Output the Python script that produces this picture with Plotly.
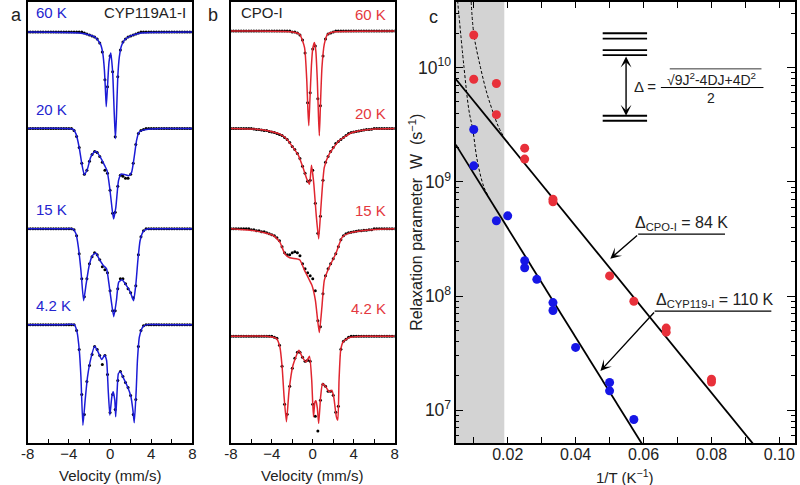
import math
import plotly.graph_objects as go

W, H = 800, 485
def px(x): return x / W
def py(y): return 1 - y / H

FONT = "Liberation Sans, Arial, Helvetica, sans-serif"
BLUE = "#1b1bd6"
RED = "#e0252f"
BLUE_TXT = "#2424cf"
RED_TXT = "#e43840"

# ---------------- Mossbauer spectra (absorption depth, arbitrary units) ----------------
VEL = [-8.0, -7.75, -7.5, -7.25, -7.0, -6.75, -6.5, -6.25, -6.0, -5.75, -5.5, -5.25, -5.0,
       -4.75, -4.5, -4.25, -4.0, -3.75, -3.5, -3.25, -3.0, -2.75, -2.5, -2.25, -2.0, -1.75,
       -1.5, -1.25, -1.0, -0.75, -0.5, -0.25, 0.0, 0.25, 0.5, 0.75, 1.0, 1.25, 1.5, 1.75,
       2.0, 2.25, 2.5, 2.75, 3.0, 3.25, 3.5, 3.75, 4.0, 4.25, 4.5, 4.75, 5.0, 5.25, 5.5,
       5.75, 6.0, 6.25, 6.5, 6.75, 7.0, 7.25, 7.5, 7.75, 8.0]

# CYP119A1-I fits
A60_V = [-8, -3, -2, -1.5, -1.2, -0.9, -0.7, -0.55, -0.45, -0.37, -0.25, -0.1, 0.07, 0.25, 0.4,
         0.52, 0.62, 0.75, 0.9, 1.1, 1.4, 2, 3, 8]
A60_D = [0, 1, 3, 5, 8, 13, 22, 38, 58, 75, 55, 30, 21, 40, 80, 107, 85, 45, 25, 14, 8, 4, 1, 0]
A20_V = [-8, -4.5, -3.6, -3.3, -3.0, -2.74, -2.5, -2.2, -1.89, -1.57, -1.35, -0.93, -0.52, -0.29,
         -0.04, 0.18, 0.34, 0.56, 0.82, 1.07, 1.45, 1.83, 2.09, 2.34, 2.57, 2.79, 3.2, 3.7, 5, 8]
A20_D = [0, 0, 0.7, 5.7, 19, 35.7, 46.3, 40.7, 29, 24, 23, 29, 37.3, 42.3, 59, 79, 90.7, 79, 52.3,
         45.7, 46.3, 47.3, 44, 29, 12.3, 4, 1.7, 0.7, 0, 0]
A15_V = [-8, -4.5, -3.62, -3.31, -3.08, -2.83, -2.57, -2.32, -2.03, -1.71, -1.39, -1.07, -0.65,
         -0.34, -0.11, 0.11, 0.36, 0.62, 0.84, 1.17, 1.58, 1.96, 2.28, 2.51, 2.70, 2.92, 3.24,
         3.7, 5, 8]
A15_D = [0, 0, 0, 5, 18.3, 41.7, 72, 55, 36.7, 26.7, 24.3, 30, 36.7, 40, 55, 71.7, 88, 71.7,
         53.3, 51, 56.7, 63.3, 72, 55, 31.7, 11.7, 2.3, 0, 0, 0]
A4_V = [-8, -4.5, -3.47, -3.21, -2.99, -2.83, -2.64, -2.42, -2.19, -1.87, -1.49, -1.17, -0.82,
        -0.53, -0.34, -0.18, -0.02, 0.17, 0.30, 0.46, 0.55, 0.69, 0.81, 1.0, 1.32, 1.70, 2.03,
        2.22, 2.35, 2.54, 2.66, 2.85, 3.18, 3.6, 5, 8]
A4_D = [0, 0, 0, 7.3, 25.7, 52.3, 100.7, 75.7, 52.3, 34, 21.7, 27.3, 35, 30.7, 35.7, 65.7, 90.7,
        72.3, 67.3, 75.7, 92.3, 65.7, 49, 47.3, 54, 62.3, 72.3, 85.7, 98.3, 65.7, 35.7, 12.3,
        2.3, 0, 0, 0]

# CPO-I fits
B60_V = [-8, -2, -1.28, -0.8, -0.58, -0.47, -0.386, -0.28, -0.13, 0.0, 0.16, 0.3, 0.45, 0.56,
         0.645, 0.75, 0.9, 1.13, 1.45, 2, 8]
B60_D = [0, 1, 3.3, 16.7, 50, 80, 95, 70, 35, 18, 11.7, 20, 50, 85, 105, 75, 36.7, 13.3, 3.3, 1, 0]
B20_V = [-8, -5.5, -4.5, -3.2, -2.5, -1.93, -1.4, -0.96, -0.58, -0.32, -0.12, 0.1, 0.35, 0.58,
         0.8, 1.13, 1.61, 2.57, 3.86, 5.78, 8]
B20_D = [0, 0.7, 2, 5.7, 11, 19, 27, 39, 50.7, 56, 37, 55, 88, 110.7, 79, 39, 25.7, 12.3, 4, 0.7, 0]
B15_V = [-8, -5.46, -3.86, -3.21, -2.73, -2.25, -1.28, -0.80, -0.39, -0.07, 0.26, 0.48, 0.645,
         0.90, 1.13, 1.61, 2.25, 2.89, 3.54, 5.78, 8]
B15_D = [0, 2.3, 6.7, 13.3, 25, 29, 31, 41.7, 50, 56.7, 71.7, 91.7, 104, 78, 51.7, 38.3, 25, 8.3,
         4.3, 1, 0]
B4_V = [-8, -4.5, -3.54, -3.21, -2.99, -2.80, -2.57, -2.31, -1.93, -1.35, -1.03, -0.65, -0.32,
        -0.10, 0.07, 0.22, 0.32, 0.45, 0.58, 0.77, 0.96, 1.28, 1.61, 1.86, 2.05, 2.31, 2.45,
        2.57, 2.73, 2.96, 3.54, 5, 8]
B4_D = [0, 0, 2.3, 10.7, 30.7, 60.7, 85.7, 54, 29, 14, 20.7, 25.7, 20, 44, 80.7, 65.7, 64.7, 72,
        87.3, 60.7, 47.3, 50.7, 55.7, 54, 60.7, 80.7, 84, 44, 14, 5.7, 1.3, 0, 0]

# measured spectra on the velocity channels
A60_DATA = [0, 0, 0, 0, 0, 0, 0, 0, 0, 0, 0, 0, 0, 0, 0, 0, 0, 0, 0, 0, 0, 0,
            1, 2, 3, 4, 5, 7, 11, 20, 48, 55, 24, 40, 105, 45, 18, 10, 7, 5, 4, 3, 2, 1,
            0, 0, 0, 0, 0, 0, 0, 0, 0, 0, 0, 0, 0, 0, 0, 0, 0, 0, 0, 0, 0]
A20_DATA = [0, 0, 0, 0, 0, 0, 0, 0, 0, 0, 0, 0, 0, 0, 0, 0, 0, 0,
            2, 8, 19, 35, 46, 42, 33, 26, 23, 24, 28, 34, 42, 45, 62, 85, 84, 58, 47, 48, 50,
            50, 46, 35, 16, 5, 2, 1,
            0, 0, 0, 0, 0, 0, 0, 0, 0, 0, 0, 0, 0, 0, 0, 0, 0, 0, 0]
A15_DATA = [0, 0, 0, 0, 0, 0, 0, 0, 0, 0, 0, 0, 0, 0, 0, 0, 0, 0,
            1, 7, 25, 50, 68, 50, 35, 28, 24, 26, 31, 38, 41, 44, 62, 82, 82, 60, 50, 50, 55,
            60, 64, 69, 57, 26, 8, 2,
            0, 0, 0, 0, 0, 0, 0, 0, 0, 0, 0, 0, 0, 0, 0, 0, 0, 0, 0]
A4_DATA = [0, 0, 0, 0, 0, 0, 0, 0, 0, 0, 0, 0, 0, 0, 0, 0, 0, 0, 0,
           6, 25, 70, 90, 57, 41, 30, 22, 25, 31, 40, 31, 50, 88, 70, 85, 56, 47, 52, 58, 63,
           71, 90, 75, 22, 6, 1,
           0, 0, 0, 0, 0, 0, 0, 0, 0, 0, 0, 0, 0, 0, 0, 0, 0, 0, 0]
B60_DATA = [0, 0, 0, 0, 0, 0, 0, 0, 0, 0, 0, 0, 0, 0, 0, 0, 0, 0, 0, 0, 0, 0, 0, 0,
            1, 1, 2, 4, 9, 22, 72, 62, 18, 15, 68, 75, 25, 8, 3, 2, 1,
            0, 0, 0, 0, 0, 0, 0, 0, 0, 0, 0, 0, 0, 0, 0, 0, 0, 0, 0, 0, 0, 0, 0, 0]
B20_DATA = [0, 0, 0, 0, 0, 0, 0, 0, 0,
            0.5, 1, 1, 1.5, 2, 2, 3, 3.5, 4, 5, 6, 7, 9, 11, 14, 18, 21, 25, 30, 38, 45, 53,
            52, 42, 75, 105, 88, 52, 34, 28, 23, 19, 15, 13, 11, 9, 7, 5, 4, 3.5, 3, 2.5, 2,
            1.5, 1, 1, 0.7,
            0, 0, 0, 0, 0, 0, 0, 0, 0]
B15_DATA = [0, 0, 0, 0, 0, 0, 0, 0,
            1, 1, 2, 2, 3, 3, 4, 5, 6, 7, 9, 12, 18, 24, 26, 26, 24, 23, 24, 27, 35, 40, 44,
            47, 50, 62, 92, 98, 65, 47, 40, 35, 30, 25, 18, 11, 7, 5, 4, 3.5, 3, 2.5, 2, 2,
            1.5, 1.5, 1, 1,
            0, 0, 0, 0, 0, 0, 0, 0, 0]
B4_DATA = [0, 0, 0, 0, 0, 0, 0, 0, 0, 0, 0, 0, 0, 0, 0, 0, 0,
           1, 2, 9, 30, 68, 78, 50, 32, 22, 16, 16, 21, 25, 24, 25, 68, 80, 95, 64, 48, 50, 55,
           55, 59, 76, 70, 13, 5, 3, 1,
           0, 0, 0, 0, 0, 0, 0, 0, 0, 0, 0, 0, 0, 0, 0, 0, 0, 0]

for arr in (A60_DATA, A20_DATA, A15_DATA, A4_DATA, B60_DATA, B20_DATA, B15_DATA, B4_DATA):
    assert len(arr) == len(VEL), len(arr)

TEMPS = ["60 K", "20 K", "15 K", "4.2 K"]
A_OFFSETS = [412, 315.3, 214.7, 118.7]
B_OFFSETS = [413, 315.3, 214.7, 107]

# ---------------- Relaxation parameter W vs 1/T ----------------
CPO_X = [0.01, 0.01, 0.01667, 0.01667, 0.025, 0.025, 0.03333, 0.03333, 0.05, 0.05714,
         0.06667, 0.06667, 0.08, 0.08]
CPO_W = [1.93e10, 7.9e9, 7.26e9, 3.87e9, 1.97e9, 1.58e9, 7.05e8, 6.68e8, 1.50e8, 9.0e7,
         5.24e7, 4.83e7, 1.87e7, 1.77e7]
CYP_X = [0.01, 0.01, 0.01667, 0.02, 0.025, 0.025, 0.02857, 0.03333, 0.03333, 0.04, 0.05,
         0.05, 0.05714]
CYP_W = [2.87e9, 1.38e9, 4.56e8, 5.04e8, 2.04e8, 1.77e8, 1.40e8, 8.77e7, 7.47e7, 3.55e7,
         1.75e7, 1.48e7, 8.3e6]

# Orbach fits W = A exp(-Delta/T)
DELTA_CPO, A_CPO = 84.0, 1.18e10
DELTA_CYP, A_CYP = 110.0, 3.55e9
FIT_X = [0.0047, 0.1046]

# dashed curves (total relaxation incl. high-T process)
DASH_CPO_X = [0.0091, 0.01003, 0.01197, 0.01391, 0.01583, 0.01728, 0.01872]
DASH_CPO_W = [4.6e10, 1.96e10, 1.007e10, 5.9e9, 3.95e9, 3.03e9, 2.51e9]
DASH_CYP_X = [0.0051, 0.00713, 0.00858, 0.00974, 0.01101, 0.01293, 0.01438]
DASH_CYP_W = [4.3e10, 1.007e10, 4.23e9, 2.83e9, 1.55e9, 9.1e8, 7.43e8]

SHADE_X = [0.0047, 0.019]

fig = go.Figure()

def add_spectrum(xa, ya, offset, fit_v, fit_d, data_d, color):
    fig.add_trace(go.Scatter(x=VEL, y=[offset - d for d in data_d], mode="markers",
                             marker=dict(color="black", size=3), xaxis=xa, yaxis=ya,
                             showlegend=False, hoverinfo="skip"))
    fig.add_trace(go.Scatter(x=fit_v, y=[offset - d for d in fit_d], mode="lines",
                             line=dict(color=color, width=1.5, shape="spline", smoothing=0.5),
                             xaxis=xa, yaxis=ya, showlegend=False, hoverinfo="skip"))

for off, fv, fd, dd in zip(A_OFFSETS, [A60_V, A20_V, A15_V, A4_V], [A60_D, A20_D, A15_D, A4_D],
                           [A60_DATA, A20_DATA, A15_DATA, A4_DATA]):
    add_spectrum("x", "y", off, fv, fd, dd, BLUE)
for off, fv, fd, dd in zip(B_OFFSETS, [B60_V, B20_V, B15_V, B4_V], [B60_D, B20_D, B15_D, B4_D],
                           [B60_DATA, B20_DATA, B15_DATA, B4_DATA]):
    add_spectrum("x2", "y2", off, fv, fd, dd, RED)

# panel c
for dx, dw in ((DASH_CPO_X, DASH_CPO_W), (DASH_CYP_X, DASH_CYP_W)):
    fig.add_trace(go.Scatter(x=dx, y=dw, mode="lines", xaxis="x3", yaxis="y3",
                             line=dict(color="black", width=1, dash="3px,2px", shape="spline"),
                             showlegend=False, hoverinfo="skip"))
for delta, a in ((DELTA_CPO, A_CPO), (DELTA_CYP, A_CYP)):
    fig.add_trace(go.Scatter(x=FIT_X, y=[a * math.exp(-delta * x) for x in FIT_X],
                             mode="lines", xaxis="x3", yaxis="y3",
                             line=dict(color="black", width=1.8),
                             showlegend=False, hoverinfo="skip"))
fig.add_trace(go.Scatter(x=CPO_X, y=CPO_W, mode="markers", xaxis="x3", yaxis="y3",
                         marker=dict(color="#e8303a", size=9), showlegend=False))
fig.add_trace(go.Scatter(x=CYP_X, y=CYP_W, mode="markers", xaxis="x3", yaxis="y3",
                         marker=dict(color="#1616e6", size=9), showlegend=False))

Y0, Y1 = 1 - 443 / H, 1 - 1 / H
frame = dict(showline=True, linecolor="black", linewidth=1.5, mirror=True, showgrid=False,
             zeroline=False, tickcolor="black", tickwidth=1.2,
             tickfont=dict(family=FONT, size=15, color="#222"))
vel_x = dict(frame, range=[-8, 8], ticks="inside", ticklen=4, ticklabelstandoff=-4,
             tickvals=[-8, -4, 0, 4, 8], ticktext=["-8", "\u22124", "0", "4", "8"],
             minor=dict(dtick=2, tick0=0, ticks="inside", ticklen=4, tickcolor="black",
                        tickwidth=1.2))
spec_y = dict(frame, range=[0, 442], showticklabels=False, ticks="")

fig.update_layout(
    width=W, height=H, margin=dict(l=0, r=0, t=0, b=0),
    paper_bgcolor="white", plot_bgcolor="white", showlegend=False,
    font=dict(family=FONT, color="#222"),
    xaxis=dict(vel_x, domain=[21 / W, 188 / W], anchor="y"),
    yaxis=dict(spec_y, domain=[Y0, Y1], anchor="x"),
    xaxis2=dict(vel_x, domain=[227 / W, 393 / W], anchor="y2"),
    yaxis2=dict(spec_y, domain=[Y0, Y1], anchor="x2"),
    xaxis3=dict(frame, domain=[455 / W, 799 / W], anchor="y3", range=[0.0047, 0.1046],
                mirror="ticks", ticks="inside", ticklen=6, ticklabelstandoff=-4,
                tickvals=[0.02, 0.04, 0.06, 0.08, 0.10],
                ticktext=["0.02", "0.04", "0.06", "0.08", "0.10"],
                tickfont=dict(family=FONT, size=16, color="#222"),
                minor=dict(dtick=0.01, tick0=0, ticks="inside", ticklen=6,
                           tickcolor="black", tickwidth=1.2)),
    yaxis3=dict(frame, domain=[Y0, Y1], anchor="x3", type="log", range=[6.713, 10.574],
                mirror="ticks", ticks="inside", ticklen=8, dtick=1,
                exponentformat="power", tickfont=dict(family=FONT, size=14, color="#222"),
                minor=dict(ticks="inside", ticklen=4, dtick="D1", tickcolor="black",
                           tickwidth=1.1)),
)

shapes = [dict(type="rect", xref="x3", yref="y3 domain", x0=SHADE_X[0], x1=SHADE_X[1],
               y0=0, y1=1, fillcolor="#d3d3d3", line=dict(width=0), layer="below")]
# energy level diagram
for yy in (32.3, 37.7, 49.3, 54.3, 115, 120):
    shapes.append(dict(type="line", xref="paper", yref="paper", x0=px(604), x1=px(649),
                       y0=py(yy), y1=py(yy), line=dict(color="black", width=1.8)))
# fraction bar and sqrt overline
shapes.append(dict(type="line", xref="paper", yref="paper", x0=px(663), x1=px(767),
                   y0=py(86.7), y1=py(86.7), line=dict(color="black", width=1)))
shapes.append(dict(type="line", xref="paper", yref="paper", x0=px(672), x1=px(765),
                   y0=py(68), y1=py(68), line=dict(color="black", width=0.8)))
# label leader lines
shapes.append(dict(type="line", xref="paper", yref="paper", x0=px(640), x1=px(728),
                   y0=py(233.7), y1=py(233.7), line=dict(color="black", width=1.2)))
shapes.append(dict(type="line", xref="paper", yref="paper", x0=px(656.7), x1=px(775),
                   y0=py(310.7), y1=py(310.7), line=dict(color="black", width=1.2)))
fig.update_layout(shapes=shapes)

ann = []
def txt(x, y, s, size=15, color="#222", xanchor="center", angle=0):
    ann.append(dict(x=px(x), y=py(y), xref="paper", yref="paper", text=s, showarrow=False,
                    xanchor=xanchor, yanchor="middle", textangle=angle,
                    font=dict(family=FONT, size=size, color=color)))

txt(10, 14, "a", 18)
txt(209, 14, "b", 18)
txt(432, 16, "c", 18)
for t, off in zip(TEMPS, A_OFFSETS):
    txt(27, 443 - off - 19, t, 15, BLUE_TXT, "left")
txt(184, 12, "CYP119A1-I", 15, "#222", "right")
txt(235, 12, "CPO-I", 15, "#222", "left")
for t, yy in zip(TEMPS, [14, 113, 210, 308]):
    txt(386, yy, t, 15, RED_TXT, "right")
# axis titles
txt(104.5, 475, "Velocity (mm/s)", 15)
txt(310, 475, "Velocity (mm/s)", 15)
txt(627, 476, "1/T (K<sup>\u22121</sup>)", 15)
txt(414, 222, "Relaxation parameter\u00a0\u00a0W\u00a0\u00a0(s<sup>\u22121</sup>)", 16, "#222",
    angle=-90)
# inset equation
txt(647, 86, "\u0394 =", 15)
txt(714, 78, "\u221a9J<sup>2</sup>-4DJ+4D<sup>2</sup>", 14)
txt(714, 97, "2", 14)
txt(635, 223, "\u0394<sub>CPO-I</sub> = 84 K", 16, "#222", "left")
txt(656, 300, "\u0394<sub>CYP119-I</sub> = 110 K", 16, "#222", "left")

def arrow(xt, yt, xs, ys, both=False):
    d = dict(x=px(xt), y=py(yt), xref="paper", yref="paper", text="", showarrow=True,
             ax=xs - xt, ay=ys - yt, arrowhead=3, arrowsize=1.3, arrowwidth=1.4,
             arrowcolor="black", standoff=0)
    if both:
        d.update(arrowside="end+start", startarrowhead=3, startarrowsize=1.3, startstandoff=0)
    ann.append(d)

arrow(627.7, 115, 627.7, 54.3, both=True)
arrow(611.7, 258.3, 640, 233.7)
arrow(601.7, 370.7, 656.7, 310.7)
fig.update_layout(annotations=ann)

fig.write_html("out.html", config={"displayModeBar": False},
               post_script="document.body.style.margin='0';")
